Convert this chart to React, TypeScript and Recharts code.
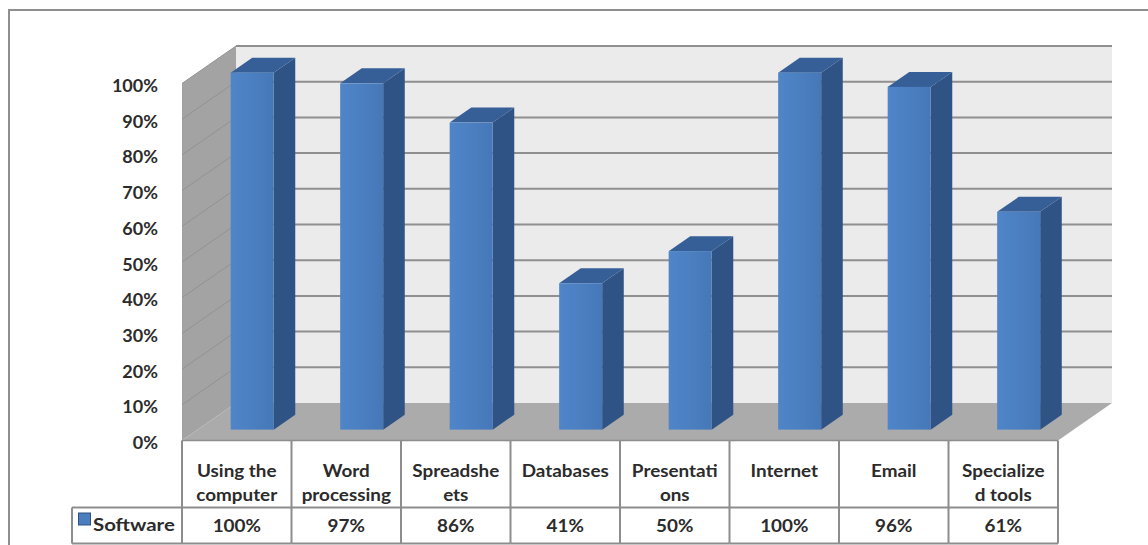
import { BarChart, Bar, XAxis, YAxis, CartesianGrid } from 'recharts';

const CATEGORIES = [
  'Using the computer',
  'Word processing',
  'Spreadsheets',
  'Databases',
  'Presentations',
  'Internet',
  'Email',
  'Specialized tools',
];
// header cells wrap the way the spreadsheet table does
const CATEGORY_LINES = [
  ['Using the', 'computer'],
  ['Word', 'processing'],
  ['Spreadshe', 'ets'],
  ['Databases'],
  ['Presentati', 'ons'],
  ['Internet'],
  ['Email'],
  ['Specialize', 'd tools'],
];
const SERIES_NAME = 'Software';
const SOFTWARE = [100, 97, 86, 41, 50, 100, 96, 61];
const Y_TICKS = [0, 10, 20, 30, 40, 50, 60, 70, 80, 90, 100];

const data = CATEGORIES.map((name, i) => ({ name, software: SOFTWARE[i] }));

const WIDTH = 1148;
const HEIGHT = 545;
const PLOT = { left: 182, right: 1058, top: 83.5, bottom: 440.5 };
const DEPTH = { x: 54, y: 37.5 };
const Y_AXIS_W = 60;
const X_AXIS_H = 104;
const BAND = (PLOT.right - PLOT.left) / CATEGORIES.length;

// bars sit between these fractions of the floor depth
const FRONT = 0.29;
const BACK = 0.69;

const HEADER_H = 67;
const VALUE_H = 36;
const LEGEND_LEFT = 72;

const LINE = '#8d8d8d';
const TEXT = '#2b2b2b';
const FONT = 'Lato';
const STRETCH = 1.11;

function Label({ x, y, anchor = 'middle', stretch = STRETCH, children }: any) {
  return (
    <text
      transform={`translate(${x},${y}) scale(${stretch},1)`}
      textAnchor={anchor}
      fontFamily={FONT}
      fontSize={17}
      fontWeight={700}
      fill={TEXT}
    >
      {children}
    </text>
  );
}

function Walls() {
  const { left, right, top, bottom } = PLOT;
  const dx = DEPTH.x;
  const dy = DEPTH.y;
  return (
    <svg width={WIDTH} height={HEIGHT} style={{ position: 'absolute', left: 0, top: 0 }}>
      <rect x={9} y={10} width={1200} height={600} fill="#fff" stroke="#8f8f8f" strokeWidth={2} />
      <polygon
        points={`${left + dx},${top - dy} ${right + dx},${top - dy} ${right + dx},${bottom - dy} ${left + dx},${bottom - dy}`}
        fill="#ebebeb"
      />
      <polygon
        points={`${left},${top} ${left + dx},${top - dy} ${left + dx},${bottom - dy} ${left},${bottom}`}
        fill="#a3a3a3"
      />
      <polygon
        points={`${left},${bottom} ${left + dx},${bottom - dy} ${right + dx},${bottom - dy} ${right},${bottom}`}
        fill="#ababab"
      />
    </svg>
  );
}

function GridLine(props: any) {
  const { x1, y1, x2, index } = props;
  const dx = DEPTH.x;
  const dy = DEPTH.y;
  if (y1 >= PLOT.bottom - 0.5) return <g key={`g-${index}`} />;
  return (
    <g key={`g-${index}`}>
      <line x1={x1} y1={y1} x2={x1 + dx} y2={y1 - dy} stroke="#929292" strokeWidth={1} />
      <line x1={x1 + dx} y1={y1 - dy} x2={x2 + dx} y2={y1 - dy} stroke="#8f8f8f" strokeWidth={2} />
    </g>
  );
}

function PrismBar(props: any) {
  const { x, y, width, height, index } = props;
  if (!height || height <= 0) return <g />;
  const fx = x + DEPTH.x * FRONT;
  const fy = y - DEPTH.y * FRONT;
  const bx = x + DEPTH.x * BACK;
  const by = y - DEPTH.y * BACK;
  const w = width;
  const h = height;
  return (
    <g key={`bar-${index}`}>
      <polygon
        points={`${fx + w},${fy} ${bx + w},${by} ${bx + w},${by + h} ${fx + w},${fy + h}`}
        fill="#2f5385"
      />
      <polygon
        points={`${fx},${fy} ${bx},${by} ${bx + w},${by} ${fx + w},${fy}`}
        fill="#375f97"
      />
      <rect x={fx} y={fy} width={w} height={h} fill="url(#barFront)" />
    </g>
  );
}

function YTick(props: any) {
  const { x, y, payload } = props;
  return (
    <Label x={x} y={y + 8.5} anchor="end" stretch={1.06}>
      {`${payload.value}%`}
    </Label>
  );
}

// the axis doubles as the data table under the floor
function TableCell(props: any) {
  const { x, y, payload } = props;
  const i = payload.index ?? props.index;
  const left = x - BAND / 2;
  const right = x + BAND / 2;
  const mid = y + HEADER_H;
  const bottom = mid + VALUE_H;
  const lines = CATEGORY_LINES[i] || [CATEGORIES[i]];
  return (
    <g>
      <line x1={left} y1={y} x2={right} y2={y} stroke={LINE} strokeWidth={1.5} />
      <line x1={left} y1={mid} x2={right} y2={mid} stroke={LINE} strokeWidth={2} />
      <line x1={left} y1={bottom} x2={right} y2={bottom} stroke={LINE} strokeWidth={2} />
      <line x1={left} y1={y} x2={left} y2={bottom} stroke={LINE} strokeWidth={2} />
      {i === CATEGORIES.length - 1 && (
        <line x1={right} y1={y} x2={right} y2={bottom} stroke={LINE} strokeWidth={2} />
      )}
      {lines.map((t, k) => (
        <Label key={k} x={x} y={y + 36 + k * 24}>
          {t}
        </Label>
      ))}
      <Label x={x} y={y + 91}>
        {`${SOFTWARE[i]}%`}
      </Label>
      {i === 0 && (
        <g>
          <line x1={LEGEND_LEFT} y1={mid} x2={left} y2={mid} stroke={LINE} strokeWidth={2} />
          <line x1={LEGEND_LEFT} y1={bottom} x2={left} y2={bottom} stroke={LINE} strokeWidth={2} />
          <line x1={LEGEND_LEFT} y1={mid} x2={LEGEND_LEFT} y2={bottom} stroke={LINE} strokeWidth={2} />
          <rect x={78.5} y={mid + 5.5} width={12} height={12} fill="#4a7ebe" stroke="#2f5385" strokeWidth={1} />
          <Label x={93} y={mid + 23.5} anchor="start" stretch={1.2}>
            {SERIES_NAME}
          </Label>
        </g>
      )}
    </g>
  );
}

export default function App() {
  return (
    <div style={{ position: 'absolute', left: 0, top: 0, width: WIDTH, height: HEIGHT, background: '#fff' }}>
      <Walls />
      <div style={{ position: 'absolute', left: 0, top: 0 }}>
        <BarChart
          width={WIDTH}
          height={HEIGHT}
          data={data}
          margin={{
            top: PLOT.top,
            right: WIDTH - PLOT.right,
            left: PLOT.left - Y_AXIS_W,
            bottom: HEIGHT - PLOT.bottom - X_AXIS_H,
          }}
        >
          <defs>
            <linearGradient id="barFront" x1="0" y1="0" x2="1" y2="0">
              <stop offset="0%" stopColor="#4f86c9" />
              <stop offset="100%" stopColor="#4678b8" />
            </linearGradient>
          </defs>
          <CartesianGrid vertical={false} horizontal={GridLine} />
          <XAxis
            dataKey="name"
            interval={0}
            height={X_AXIS_H}
            axisLine={false}
            tickLine={false}
            tickSize={0}
            tickMargin={0}
            tick={TableCell}
          />
          <YAxis
            domain={[0, 100]}
            ticks={Y_TICKS}
            width={Y_AXIS_W}
            axisLine={false}
            tickLine={false}
            tickSize={0}
            tickMargin={24}
            tick={YTick}
          />
          <Bar dataKey="software" name={SERIES_NAME} barSize={43} shape={PrismBar} isAnimationActive={false} />
        </BarChart>
      </div>
    </div>
  );
}
